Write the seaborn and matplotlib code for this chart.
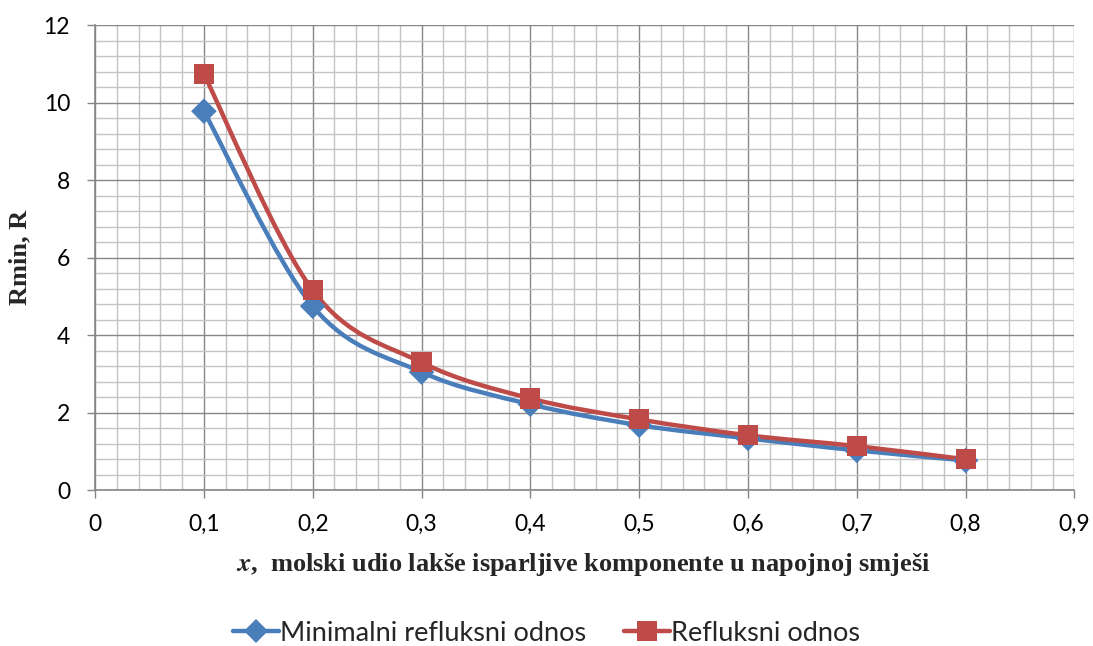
import numpy as np
import pandas as pd
import matplotlib
matplotlib.use("Agg")
import matplotlib.pyplot as plt
from matplotlib.path import Path
from matplotlib.patches import PathPatch
from matplotlib.lines import Line2D
from matplotlib.ticker import MultipleLocator, FuncFormatter
import seaborn as sns

x_vals = [0.1, 0.2, 0.3, 0.4, 0.5, 0.6, 0.7, 0.8]
r_min = [9.78, 4.75, 3.05, 2.22, 1.68, 1.34, 1.03, 0.77]
r_ref = [10.74, 5.16, 3.30, 2.37, 1.83, 1.42, 1.14, 0.80]
series_names = ["Minimalni refluksni odnos", "Refluksni odnos"]
colors = ["#4A7EBB", "#BE4B48"]
markers = ["D", "s"]
marker_sizes = [12, 14]


def smooth_path(xs, ys):
    # Excel style smoothed line: cubic Bezier with Catmull-Rom tangents
    pts = np.column_stack([xs, ys])
    verts = [pts[0]]
    codes = [Path.MOVETO]
    n = len(pts)
    for i in range(n - 1):
        p0 = pts[i - 1] if i > 0 else pts[i]
        p1, p2 = pts[i], pts[i + 1]
        p3 = pts[i + 2] if i + 2 < n else pts[i + 1]
        c1 = p1 + (p2 - p0) / 6.0
        c2 = p2 - (p3 - p1) / 6.0
        verts += [c1, c2, p2]
        codes += [Path.CURVE4] * 3
    return Path(verts, codes)


sns.set_style("white")
plt.rcParams["font.family"] = ["Lato", "DejaVu Sans"]

df = pd.DataFrame({"x": x_vals * 2,
                   "R": r_min + r_ref,
                   "serija": [series_names[0]] * len(x_vals) + [series_names[1]] * len(x_vals)})

fig, ax = plt.subplots(figsize=(10.93, 6.46), dpi=100)
fig.subplots_adjust(left=0.087, right=0.983, top=0.961, bottom=0.241)

for ys, c in zip([r_min, r_ref], colors):
    ax.add_patch(PathPatch(smooth_path(x_vals, ys), facecolor="none", edgecolor=c,
                           lw=3.2, capstyle="round", joinstyle="round", zorder=3))

sns.scatterplot(data=df, x="x", y="R", hue="serija", style="serija",
                palette=colors, markers=dict(zip(series_names, markers)),
                size="serija", sizes={series_names[0]: 170, series_names[1]: 210},
                linewidth=0, legend=False, ax=ax, zorder=4)

ax.set_xlim(0, 0.9)
ax.set_ylim(0, 12)
ax.xaxis.set_major_locator(MultipleLocator(0.1))
ax.xaxis.set_minor_locator(MultipleLocator(0.02))
ax.yaxis.set_major_locator(MultipleLocator(2))
ax.yaxis.set_minor_locator(MultipleLocator(0.4))
ax.grid(which="major", color="#868686", lw=1.0, zorder=1)
ax.grid(which="minor", color="#c4c4c4", lw=1.0, zorder=1)
ax.set_axisbelow(True)

ax.xaxis.set_major_formatter(FuncFormatter(lambda v, p: ("%g" % round(v, 2)).replace(".", ",")))
ax.yaxis.set_major_formatter(FuncFormatter(lambda v, p: "%d" % v))
ax.tick_params(axis="both", which="major", labelsize=16.5, color="#868686", length=6,
               direction="out", width=1.0, labelcolor="black")
ax.tick_params(axis="x", which="major", pad=11)
ax.tick_params(axis="y", which="major", pad=12)
ax.tick_params(axis="both", which="minor", length=0)
ax.tick_params(bottom=True, left=True)

for s in ["top", "right"]:
    ax.spines[s].set_visible(False)
for s in ["left", "bottom"]:
    ax.spines[s].set_color("#868686")
    ax.spines[s].set_linewidth(1.2)

ax.set_xlabel("")
ax.set_ylabel("Rmin, R", family="Liberation Serif", fontweight="bold", fontsize=19, labelpad=9)
fig.text(0.534, 0.126, r"$\mathbfit{x}$,  molski udio lakše isparljive komponente u napojnoj smješi",
         ha="center", va="center", family="Liberation Serif", fontweight="bold", fontsize=19,
         math_fontfamily="stix")

handles = [Line2D([0], [0], color=c, lw=3.2, marker=m, markersize=ms, markeredgewidth=0)
           for c, m, ms in zip(colors, markers, marker_sizes)]
fig.legend(handles, series_names, loc="center", bbox_to_anchor=(0.5, 0.02), ncol=2,
           frameon=False, fontsize=19.5, handlelength=1.7, handletextpad=0.05,
           columnspacing=1.4)

fig.savefig("out.png", dpi=100)
